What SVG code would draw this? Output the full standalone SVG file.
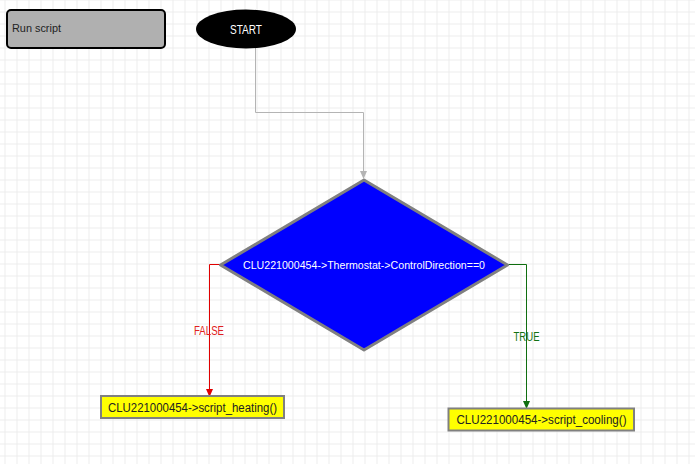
<svg xmlns="http://www.w3.org/2000/svg" width="695" height="464" viewBox="0 0 695 464">
  <defs>
    <pattern id="grid" x="4.5" y="11.5" width="12" height="12" patternUnits="userSpaceOnUse">
      <path d="M0 0.5 H12 M0.5 0 V12" fill="none" stroke="#ececec" stroke-width="1"/>
    </pattern>
    <marker id="arrGray" viewBox="0 0 8 8" refX="7" refY="4" markerWidth="8" markerHeight="8" markerUnits="userSpaceOnUse" orient="auto">
      <path d="M0 0.5 L8 4 L0 7.5 Z" fill="#b4b4b4"/>
    </marker>
    <marker id="arrRed" viewBox="0 0 8 8" refX="7" refY="4" markerWidth="8" markerHeight="8" markerUnits="userSpaceOnUse" orient="auto">
      <path d="M0 0.5 L8 4 L0 7.5 Z" fill="#e00000"/>
    </marker>
    <marker id="arrGreen" viewBox="0 0 8 8" refX="7" refY="4" markerWidth="8" markerHeight="8" markerUnits="userSpaceOnUse" orient="auto">
      <path d="M0 0.5 L8 4 L0 7.5 Z" fill="#0f6e0f"/>
    </marker>
  </defs>
  <style>
    text { font-family: "Liberation Sans", Arial, sans-serif; }
    .conn { fill: none; stroke-width: 1; }
    .call { fill: #ffff00; stroke: #808080; stroke-width: 2; }
    .calltxt { font-size: 12.5px; fill: #222222; }
  </style>
  <rect width="695" height="464" fill="#ffffff"/>
  <rect width="695" height="464" fill="url(#grid)"/>

  <g id="connectors">
    <path class="conn" d="M255.5 48 V112.5 H363.5 V178" stroke="#b4b4b4" marker-end="url(#arrGray)"/>
    <path class="conn" d="M220 264.5 H209.5 V396" stroke="#e00000" marker-end="url(#arrRed)"/>
    <text x="209" y="334.5" font-size="12.5" fill="#e02020" text-anchor="middle" textLength="30" lengthAdjust="spacingAndGlyphs">FALSE</text>
    <path class="conn" d="M508 264.5 H526.5 V408" stroke="#0f6e0f" marker-end="url(#arrGreen)"/>
    <text x="526.5" y="340.5" font-size="12.5" fill="#137213" text-anchor="middle" textLength="26" lengthAdjust="spacingAndGlyphs">TRUE</text>
  </g>

  <g id="run-script">
    <rect x="7" y="10" width="158" height="38" rx="4" ry="4" fill="#b0b0b0" stroke="#000000" stroke-width="2"/>
    <text x="12" y="32" font-size="11" fill="#222222" textLength="49" lengthAdjust="spacingAndGlyphs">Run script</text>
  </g>

  <g id="start">
    <ellipse cx="246" cy="29" rx="50" ry="19.5" fill="#000000"/>
    <text x="246" y="33.5" font-size="12.5" fill="#ffffff" text-anchor="middle" textLength="32" lengthAdjust="spacingAndGlyphs">START</text>
  </g>

  <g id="condition">
    <polygon points="364,180 507.5,265 364,350 220.5,265" fill="#0000ff" stroke="#808080" stroke-width="3" stroke-linejoin="round"/>
    <text x="364" y="269" font-size="11" fill="#ffffff" text-anchor="middle" textLength="242" lengthAdjust="spacingAndGlyphs">CLU221000454-&gt;Thermostat-&gt;ControlDirection==0</text>
  </g>

  <g id="heating">
    <rect class="call" x="101" y="396" width="183" height="22"/>
    <text class="calltxt" x="192.5" y="411.5" text-anchor="middle" textLength="169" lengthAdjust="spacingAndGlyphs">CLU221000454-&gt;script_heating()</text>
  </g>

  <g id="cooling">
    <rect class="call" x="448.5" y="408.5" width="185.5" height="22"/>
    <text class="calltxt" x="541.5" y="424" text-anchor="middle" textLength="170" lengthAdjust="spacingAndGlyphs">CLU221000454-&gt;script_cooling()</text>
  </g>
</svg>
